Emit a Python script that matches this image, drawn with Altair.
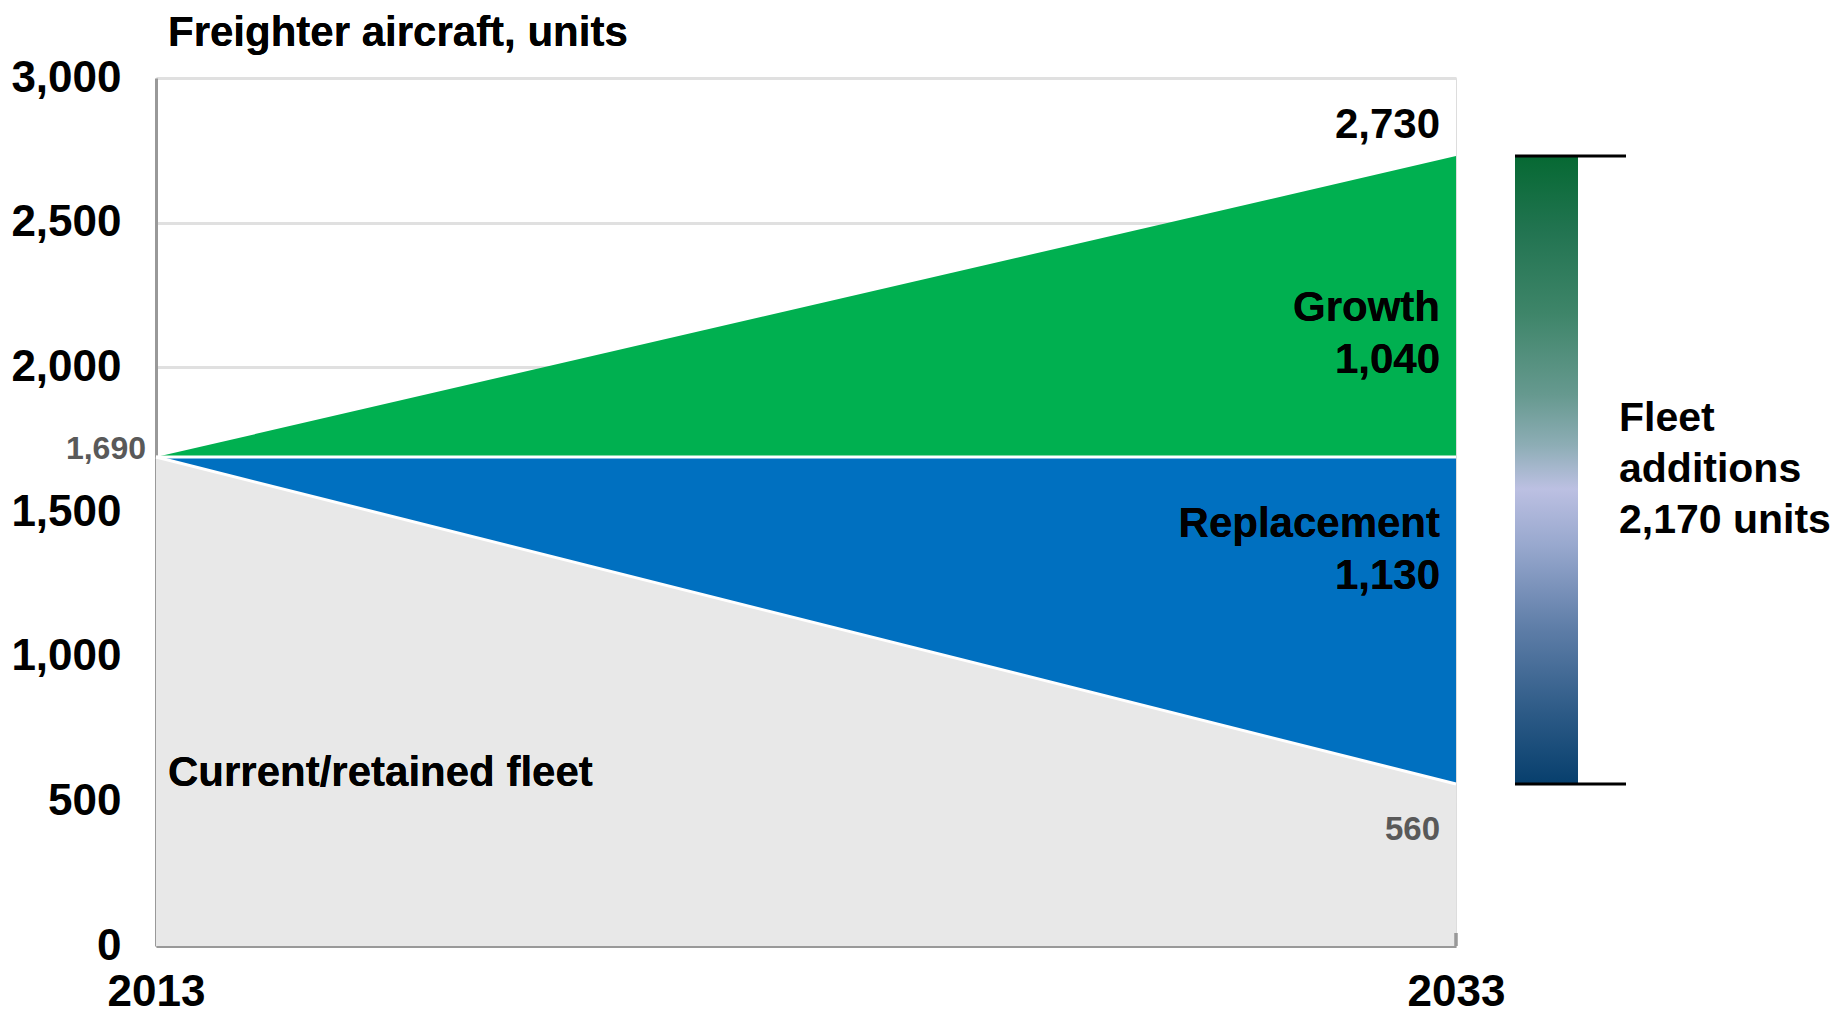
import altair as alt
import pandas as pd

# ---- data ----
years = [2013, 2033]
retained_fleet = [1690, 560]          # current / retained fleet
replacement_top = [1690, 1690]        # retained + replacement
total_fleet = [1690, 2730]            # retained + replacement + growth
zero_line = [0, 0]
y_tick_values = [0, 500, 1000, 1500, 2000, 2500, 3000]
x_tick_values = [2013, 2033]

replacement_units = 1130
growth_units = 1040
additions_units = total_fleet[1] - retained_fleet[1]

df = pd.DataFrame({
    "year": years,
    "retained": retained_fleet,
    "mid": replacement_top,
    "total": total_fleet,
    "zero": zero_line,
})
df["midpoint"] = (df["total"] + df["retained"]) / 2

FONT = "Liberation Sans, Arial, sans-serif"
W, H = 1300, 868

xscale = alt.Scale(domain=[2013, 2033], nice=False, zero=False)
yscale = alt.Scale(domain=[0, 3000], nice=False)

x_enc = alt.X(
    "year:Q", scale=xscale,
    axis=alt.Axis(values=x_tick_values, format="d", labelFontSize=44, labelFontWeight="bold",
                  labelColor="black", labelFont=FONT, labelPadding=24, ticks=False, tickSize=0,
                  labelFlush=False, domainColor="#999999", domainWidth=3, grid=False, title=None),
)
y_axis = alt.Axis(values=y_tick_values, format=",d", labelFontSize=44, labelFontWeight="bold",
                  labelColor="black", labelFont=FONT, labelPadding=35, ticks=False, tickSize=0,
                  domainColor="#999999", domainWidth=3, grid=True, gridColor="#E0E0E0",
                  gridWidth=3, title=None)

base = alt.Chart(df)

grey = base.mark_area(color="#E8E8E8").encode(
    x=x_enc, y=alt.Y("retained:Q", scale=yscale, axis=y_axis), y2="zero:Q")
blue = base.mark_area(color="#0070C0").encode(
    x="year:Q", y="mid:Q", y2="retained:Q")
green = base.mark_area(color="#00B050").encode(
    x="year:Q", y="total:Q", y2="mid:Q")
sep1 = base.mark_line(color="white", strokeWidth=3).encode(x="year:Q", y="retained:Q")
sep2 = base.mark_line(color="white", strokeWidth=3).encode(x="year:Q", y="mid:Q")

end = base.transform_filter(alt.datum.year == 2033)
start = base.transform_filter(alt.datum.year == 2013)

gradient = alt.Gradient(
    gradient="linear", x1=0, x2=0, y1=0, y2=1,
    stops=[
        alt.GradientStop(offset=0.0, color="#066933"),
        alt.GradientStop(offset=0.12, color="#227451"),
        alt.GradientStop(offset=0.25, color="#3E8569"),
        alt.GradientStop(offset=0.38, color="#66998F"),
        alt.GradientStop(offset=0.46, color="#8DADB5"),
        alt.GradientStop(offset=0.53, color="#BCC0E2"),
        alt.GradientStop(offset=0.62, color="#98A8CE"),
        alt.GradientStop(offset=0.75, color="#5F7EA8"),
        alt.GradientStop(offset=0.88, color="#2F5C88"),
        alt.GradientStop(offset=1.0, color="#073F6D"),
    ],
)
bar = end.mark_rect(color=gradient).encode(
    x=alt.value(1359), x2=alt.value(1422), y="total:Q", y2="retained:Q")
rule_top = end.mark_rule(color="black", strokeWidth=3).encode(
    x=alt.value(1359), x2=alt.value(1470), y="total:Q")
rule_bot = end.mark_rule(color="black", strokeWidth=3).encode(
    x=alt.value(1359), x2=alt.value(1470), y="retained:Q")

end_tick = base.mark_rule(color="#999999", strokeWidth=3).encode(
    x=alt.value(W), y=alt.value(H - 13), y2=alt.value(H))

lbl_total = end.mark_text(font=FONT, fontSize=42, fontWeight="bold", color="black",
                          align="right", baseline="middle", dx=-16, dy=-31).encode(
    x="year:Q", y="total:Q", text=alt.Text("total:Q", format=","))
lbl_560 = end.mark_text(font=FONT, fontSize=33, fontWeight="bold", color="#595959",
                        align="right", baseline="middle", dx=-16, dy=46).encode(
    x="year:Q", y="retained:Q", text=alt.Text("retained:Q", format=","))
lbl_1690 = start.mark_text(font=FONT, fontSize=32, fontWeight="bold", color="#595959",
                           align="right", baseline="middle", dx=-10, dy=-8).encode(
    x="year:Q", y="retained:Q", text=alt.Text("retained:Q", format=","))

lbl_growth = base.mark_text(font=FONT, fontSize=42, fontWeight="bold", color="black",
                            align="right", baseline="middle", lineHeight=52).encode(
    x=alt.value(1284), y=alt.value(230),
    text=alt.value(["Growth", f"{growth_units:,}"]))
lbl_repl = base.mark_text(font=FONT, fontSize=42, fontWeight="bold", color="black",
                          align="right", baseline="middle", lineHeight=52).encode(
    x=alt.value(1284), y=alt.value(446),
    text=alt.value(["Replacement", f"{replacement_units:,}"]))
lbl_current = base.mark_text(font=FONT, fontSize=42, fontWeight="bold", color="black",
                             align="left", baseline="middle").encode(
    x=alt.value(12), y=alt.value(695), text=alt.value("Current/retained fleet"))
lbl_add = end.mark_text(font=FONT, fontSize=41, fontWeight="bold", color="black",
                        align="left", baseline="middle", lineHeight=51, dy=-51).encode(
    x=alt.value(1463), y="midpoint:Q",
    text=alt.value(["Fleet", "additions", f"{additions_units:,} units"]))
title = base.mark_text(font=FONT, fontSize=42, fontWeight="bold", color="black",
                       align="left", baseline="middle").encode(
    x=alt.value(12), y=alt.value(-45), text=alt.value("Freighter aircraft, units"))

chart = alt.layer(
    grey, blue, green, sep1, sep2, end_tick, bar, rule_top, rule_bot,
    lbl_total, lbl_560, lbl_1690, lbl_growth, lbl_repl, lbl_current, lbl_add, title,
).properties(
    width=W, height=H,
    autosize=alt.AutoSizeParams(type="none"),
    padding={"left": 148, "top": 70, "right": 377, "bottom": 69},
).configure_view(stroke=None).configure(background="white")

chart.save("out.html", embed_options={"renderer": "svg", "actions": False})
